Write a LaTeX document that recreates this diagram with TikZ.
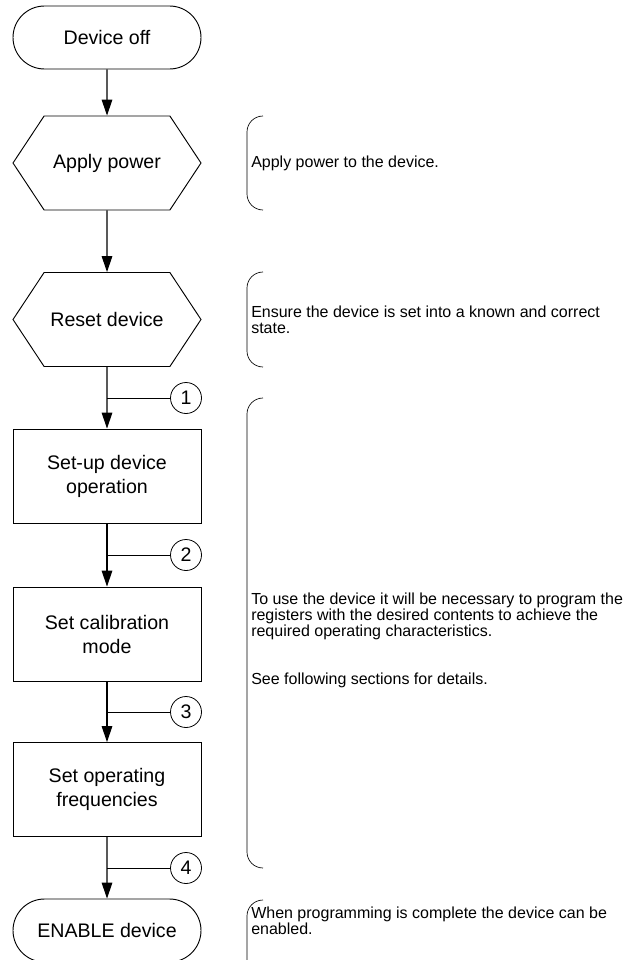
\documentclass[tikz,border=0pt]{standalone}
\usepackage{fontspec}
\setmainfont{Liberation Sans}
\usetikzlibrary{calc, shapes, arrows.meta}

\begin{document}
\begin{tikzpicture}[x=0.75pt, y=-0.75pt]

    \useasboundingbox (0,0) rectangle (636,960);

    \tikzstyle{stage}=[draw=black, line width=0.7pt, minimum width=141pt, minimum height=70.5pt, align=center, inner sep=0pt, font=\fontsize{14.7}{18}\selectfont];
    \tikzstyle{tag}=[circle, draw=black, line width=0.6pt, minimum size=23.25pt, inner sep=0pt, font=\fontsize{14.7}{18}\selectfont];
    \tikzstyle{note}=[anchor=west, align=left, inner sep=0pt, font=\fontsize{12}{12}\selectfont];
    \tikzstyle{bracket}=[line width=0.5pt, rounded corners=12pt];
    \tikzstyle{flow}=[line width=0.8pt, -{Triangle[length=12pt, width=8pt]}];

    \node[rounded rectangle, stage, minimum height=47.25pt] (off) at (107, 37.5) {Device off};
    \node[signal, signal to=west and east, signal pointer angle=113, stage] (power) at (107, 163) {Apply power};
    \node[signal, signal to=west and east, signal pointer angle=113, stage] (reset) at ($(power)+(0,156.5)$) {Reset device};
    \node[rectangle, stage] (setup) at ($(reset)+(0,156.5)$) {Set-up device\\operation};
    \node[rectangle, stage] (calib) at ($(setup)+(0,158)$) {Set calibration\\mode};
    \node[rectangle, stage] (freq) at ($(calib)+(0,155.5)$) {Set operating\\frequencies};
    \node[rounded rectangle, stage, minimum height=47.25pt] (enable) at ($(freq)+(0,141)$) {ENABLE device};

    \node[tag] (n1) at (186, 398) {1};
    \node[tag] (n2) at ($(n1)+(0,157)$) {2};
    \node[tag] (n3) at ($(n2)+(0,157)$) {3};
    \node[tag] (n4) at ($(n3)+(0,156)$) {4};

    \node[note] (powernote) at (251, 163) {Apply power to the device.};
    \node[note] (resetnote) at (251, 320) {Ensure the device is set into a known and correct\\state.};
    \node[note] (setnote) at (251, 640) {To use the device it will be necessary to program the\\registers with the desired contents to achieve the\\required operating characteristics.\\[24pt]See following sections for details.};
    \node[note] (enablenote) at (251, 921) {When programming is complete the device can be\\enabled.};

    \draw (off) edge[flow] (power);
    \draw (power) edge[flow] (reset);
    \draw (reset) edge[flow] (setup);
    \draw (setup) edge[flow] (calib);
    \draw (calib) edge[flow] (freq);
    \draw (freq) edge[flow] (enable);

    \draw[line width=0.6pt] (reset.south |- n1) -- (n1);
    \draw[line width=0.6pt] (setup.south |- n2) -- (n2);
    \draw[line width=0.6pt] (calib.south |- n3) -- (n3);
    \draw[line width=0.6pt] (freq.south |- n4) -- (n4);

    \draw[bracket] (263,116) -| (247,210) -- (263,210);
    \draw[bracket] (263,272) -| (247,367) -- (263,367);
    \draw[bracket] (263,398) -| (247,868) -- (263,868);
    \draw[bracket] (263,900) -| (247,975) -- (263,975);

\end{tikzpicture}
\end{document}
